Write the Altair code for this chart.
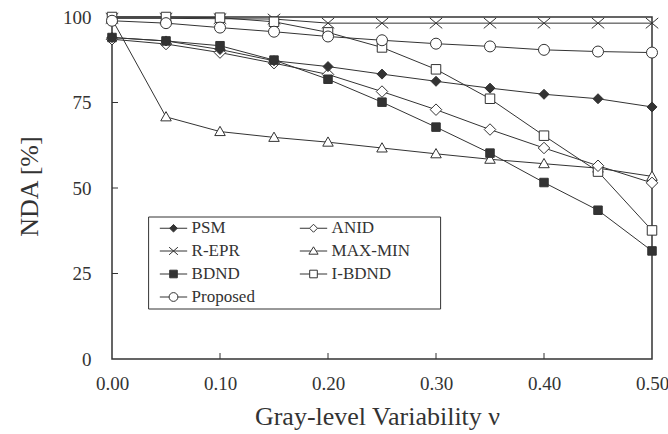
import altair as alt
import pandas as pd

# ---- data ----
nu = [0.00, 0.05, 0.10, 0.15, 0.20, 0.25, 0.30, 0.35, 0.40, 0.45, 0.50]
methods = ["PSM", "ANID", "R-EPR", "MAX-MIN", "BDND", "I-BDND", "Proposed"]
psm      = [94.0, 93.0, 90.5, 87.2, 85.5, 83.3, 81.2, 79.2, 77.4, 76.1, 73.7]
anid     = [93.5, 92.1, 89.6, 86.5, 83.2, 78.2, 72.9, 67.1, 61.7, 56.5, 51.5]
repr_    = [99.6, 99.6, 99.5, 99.4, 98.2, 98.2, 98.2, 98.2, 98.2, 98.2, 98.2]
maxmin   = [99.4, 70.8, 66.5, 64.8, 63.4, 61.7, 60.0, 58.4, 57.1, 55.8, 53.4]
bdnd     = [94.0, 93.0, 91.6, 87.4, 81.8, 75.1, 67.8, 60.2, 51.6, 43.5, 31.6]
ibdnd    = [100.0, 100.0, 99.8, 98.6, 95.5, 91.1, 84.7, 76.1, 65.3, 54.8, 37.6]
proposed = [98.9, 98.2, 96.9, 95.7, 94.3, 93.2, 92.2, 91.4, 90.4, 89.9, 89.6]
x_ticks = [0.0, 0.1, 0.2, 0.3, 0.4, 0.5]
y_ticks = [0, 25, 50, 75, 100]

series = {"PSM": psm, "ANID": anid, "R-EPR": repr_, "MAX-MIN": maxmin,
          "BDND": bdnd, "I-BDND": ibdnd, "Proposed": proposed}
draw_order = ["MAX-MIN", "R-EPR", "I-BDND", "Proposed", "ANID", "BDND", "PSM"]
rows = []
for m in draw_order:
    for x, v in zip(nu, series[m]):
        rows.append({"method": m, "nu": x, "nda": v})
df = pd.DataFrame(rows)

# ---- styles ----
INK = "#333333"
FONT = "Liberation Serif"
W, H = 540, 342

point_paths = [
    "M0,-1 L1,0 L0,1 L-1,0 Z",
    "M0,-1.15 L1.15,0 L0,1.15 L-1.15,0 Z",
    "M-1.25,-1.05 L1.25,1.05 M-1.25,1.05 L1.25,-1.05",
    "M0,-1.05 L1.05,0.8 L-1.05,0.8 Z",
    "M-0.85,-0.85 L0.85,-0.85 L0.85,0.85 L-0.85,0.85 Z",
    "M-0.95,-0.95 L0.95,-0.95 L0.95,0.95 L-0.95,0.95 Z",
    "M1.1,0 A1.1,1.1 0 1,1 -1.1,0 A1.1,1.1 0 1,1 1.1,0 Z",
]
# legend glyphs: line-marker-line
LM = "M-6.5,0 L-6.5,0 "
legend_paths = [
    LM + "M-3.42,0 L3.42,0 M0,-0.95 L0.95,0 L0,0.95 L-0.95,0 Z",
    LM + "M-3.42,0 L-1,0 M1,0 L3.42,0 M0,-1 L1,0 L0,1 L-1,0 Z",
    LM + "M-3.42,0 L3.42,0 M-1.1,-0.95 L1.1,0.95 M-1.1,0.95 L1.1,-0.95",
    LM + "M-3.42,0 L-0.7,0 M0.7,0 L3.42,0 M0,-1.05 L1.15,0.8 L-1.15,0.8 Z",
    LM + "M-3.42,0 L3.42,0 M-0.95,-0.95 L0.95,-0.95 L0.95,0.95 L-0.95,0.95 Z",
    LM + "M-3.42,0 L-0.95,0 M0.95,0 L3.42,0 M-0.95,-0.95 L0.95,-0.95 L0.95,0.95 L-0.95,0.95 Z",
    LM + "M-3.42,0 L-1.1,0 M1.1,0 L3.42,0 M1.1,0 A1.1,1.1 0 1,1 -1.1,0 A1.1,1.1 0 1,1 1.1,0 Z",
]
fills = [INK, "white", "white", "white", INK, "white", "white"]
strokes = [INK] * len(methods)

x_axis = alt.Axis(values=x_ticks, format=".2f", grid=False, domain=False, ticks=False,
                  tickSize=0, labelFont=FONT, labelFontSize=19, labelColor=INK,
                  labelPadding=15, labelFlush=False,
                  title="Gray-level Variability \u03bd", titleFont=FONT, titleFontSize=26,
                  titleFontWeight="normal", titleColor=INK, titleX=265, titleY=65,
                  titleBaseline="alphabetic")
y_axis = alt.Axis(values=y_ticks, grid=False, domain=False, ticks=False, tickSize=0,
                  labelFont=FONT, labelFontSize=19, labelColor=INK, labelPadding=21,
                  labelFlush=False,
                  title="NDA [%]", titleFont=FONT, titleFontSize=26, titleFontWeight="normal",
                  titleColor=INK, titleX=-75, titleY=169, titleBaseline="alphabetic",
                  titleAngle=270, titleAlign="center")
xs = alt.Scale(domain=[0, 0.5], nice=False, zero=False)
ys = alt.Scale(domain=[0, 100], nice=False)
X = alt.X("nu:Q", scale=xs, axis=x_axis)
Y = alt.Y("nda:Q", scale=ys, axis=y_axis)

base = alt.Chart(df)

lines = base.mark_line(color=INK, strokeWidth=1).encode(x=X, y=Y, detail="method:N")

points = base.mark_point(size=100, stroke=INK, strokeWidth=1, opacity=1, filled=False).encode(
    x=X, y=Y,
    shape=alt.Shape("method:N", scale=alt.Scale(domain=methods, range=point_paths), legend=None),
    fill=alt.Fill("method:N", scale=alt.Scale(domain=methods, range=fills), legend=None),
)

legend = alt.Legend(title="\u00a0", titleOrient="right", titlePadding=26.9, titleFontSize=1,
                    orient="none", legendX=36.1, legendY=199.5, columns=2,
                    direction="horizontal",
                    strokeColor=INK, fillColor="white", padding=3,
                    symbolSize=64, symbolStrokeWidth=1, symbolOffset=13.9,
                    labelFont=FONT, labelFontSize=17, labelColor=INK, labelOffset=9.6,
                    rowPadding=5, columnPadding=30, labelLimit=200)

legend_layer = base.transform_filter("datum.nu < -1").mark_point(
    size=64, strokeWidth=1, opacity=1, filled=False).encode(
    x=X, y=Y,
    shape=alt.Shape("method:N", scale=alt.Scale(domain=methods, range=legend_paths), legend=legend),
    fill=alt.Fill("method:N", scale=alt.Scale(domain=methods, range=fills), legend=legend),
    stroke=alt.Stroke("method:N", scale=alt.Scale(domain=methods, range=strokes), legend=legend),
)

ytick_df = pd.DataFrame({"nda": [25, 50, 75]})
xtick_df = pd.DataFrame({"nu": [0.1, 0.2, 0.3, 0.4]})
yticks = alt.Chart(ytick_df).mark_rule(color=INK, strokeWidth=1).encode(
    y=Y, x=alt.value(0), x2=alt.value(6))
xticks = alt.Chart(xtick_df).mark_rule(color=INK, strokeWidth=1).encode(
    x=X, y=alt.value(H), y2=alt.value(H - 6))

chart = alt.layer(lines, yticks, xticks, points, legend_layer).resolve_scale(
    shape="independent", fill="independent", stroke="independent"
).properties(
    width=W, height=H,
    autosize=alt.AutoSizeParams(type="none"),
    padding={"left": 112, "top": 17, "right": 16, "bottom": 75},
    background="white",
).configure_view(stroke=INK, strokeWidth=1.5)

chart.save("out.html", embed_options={"renderer": "svg", "actions": False})
